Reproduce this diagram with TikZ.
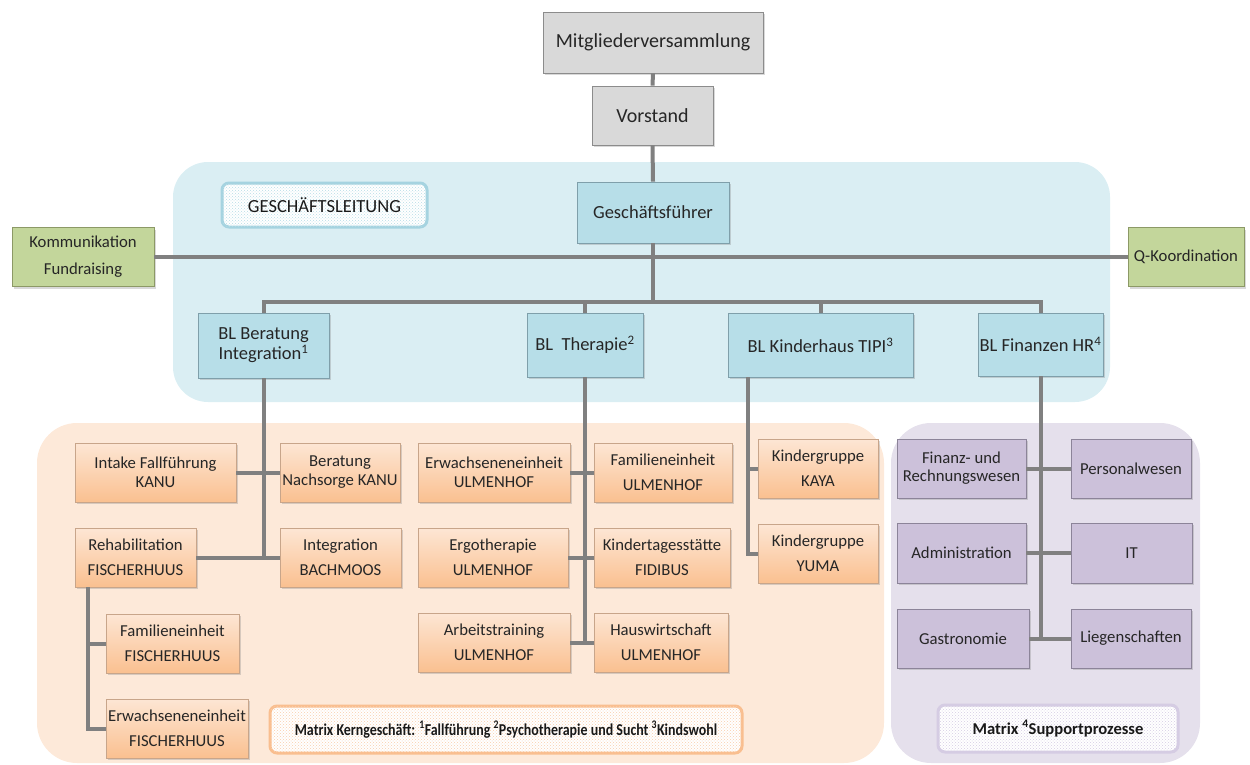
\documentclass[tikz,border=0pt]{standalone}
\usepackage{fontspec}
\setmainfont{Carlito}
\usepackage{graphicx}
\usetikzlibrary{shadows,patterns}

\definecolor{linieF}{HTML}{808080}
\definecolor{grauF}{HTML}{D9D9D9}
\definecolor{grauR}{HTML}{8C8C8C}
\definecolor{blauH}{HTML}{DAEEF3}
\definecolor{blauF}{HTML}{B7DEE8}
\definecolor{blauR}{HTML}{7F9FAA}
\definecolor{blauL}{HTML}{A5D3E0}
\definecolor{gruenF}{HTML}{C3D69B}
\definecolor{gruenR}{HTML}{8C9966}
\definecolor{kernH}{HTML}{FDE9D9}
\definecolor{kernO}{HTML}{FDE6D4}
\definecolor{kernU}{HTML}{FAC090}
\definecolor{kernR}{HTML}{C8A58A}
\definecolor{kernL}{HTML}{F9BE8F}
\definecolor{lilaH}{HTML}{E5E0EC}
\definecolor{lilaF}{HTML}{CCC1DA}
\definecolor{lilaR}{HTML}{8C8499}
\definecolor{lilaL}{HTML}{D5CCE3}

\tikzset{
  masse/.style 2 args={minimum width=#1, minimum height=#2},
  kasten/.style={draw=grauR, line width=0.8pt, align=center, inner sep=1pt,
    text=black!85, font=\fontsize{16.7}{25}\selectfont,
    drop shadow={shadow xshift=1.5pt, shadow yshift=-2pt, opacity=0.3}},
  grau/.style={kasten, fill=grauF, font=\fontsize{20}{24}\selectfont},
  blau/.style={kasten, fill=blauF, draw=blauR, font=\fontsize{18.5}{20}\selectfont},
  gruen/.style={kasten, fill=gruenF, draw=gruenR, font=\fontsize{16.7}{27}\selectfont},
  kern/.style={kasten, draw=kernR, top color=kernO, bottom color=kernU},
  eng/.style={font=\fontsize{16.7}{19}\selectfont},
  lila/.style={kasten, fill=lilaF, draw=lilaR, font=\fontsize{16.7}{18}\selectfont},
  etikett/.style={line width=3pt, rounded corners=7pt, fill=white, text=black!90},
  verbindung/.style={draw=linieF, line width=4pt},
}

\begin{document}
\begin{tikzpicture}[x=1pt,y=-1pt]
\useasboundingbox (0,0) rectangle (1250,765);

%Bereiche
\fill[blauH, rounded corners=35pt] (173,162) rectangle (1110,402);
\fill[kernH, rounded corners=40pt] (37,423) rectangle (884,763);
\fill[lilaH, rounded corners=40pt] (891,423) rectangle (1200,763);

%Etiketten
\node[etikett, draw=blauL, masse={205}{44}, font=\fontsize{18.5}{20}\selectfont, postaction={pattern=crosshatch dots, pattern color=blauL!80}] (gl) at (324.5,205) {GESCHÄFTSLEITUNG};
\node[etikett, draw=kernL, masse={472}{47}, font=\fontsize{16.6}{18}\selectfont\bfseries, postaction={pattern=crosshatch dots, pattern color=kernL!75}] (mk) at (506,729.5) {\scalebox{0.84}[1]{Matrix Kerngeschäft: \textsuperscript{1}Fallführung \textsuperscript{2}Psychotherapie und Sucht \textsuperscript{3}Kindswohl}};
\node[etikett, draw=lilaL, masse={240}{47}, font=\fontsize{16.6}{18}\selectfont\bfseries, postaction={pattern=crosshatch dots, pattern color=lilaL}] (ms) at (1058,728.5) {Matrix \textsuperscript{4}Supportprozesse};

%Leitung
\node[grau, masse={220}{61}] (mv) at (653,42.5) {Mitgliederversammlung};
\node[grau, masse={121}{59}] (vs) at (652.5,115.5) {Vorstand};
\node[blau, masse={152}{61}] (gf) at (653,212.5) {Geschäftsführer};
\node[gruen, masse={142}{59}] (komm) at (83,257) {Kommunikation\\Fundraising};
\node[gruen, masse={116}{59}] (qk) at (1186,257) {Q-Koordination};

%Bereichsleitungen
\node[blau, masse={131}{65}] (blb) at (263.5,345.5) {BL Beratung\\Integration\textsuperscript{1}};
\node[blau, masse={116}{64}] (blt) at (585,345) {BL\ \ Therapie\textsuperscript{2}};
\node[blau, masse={185}{64}] (blk) at (820.5,345) {BL Kinderhaus TIPI\textsuperscript{3}};
\node[blau, masse={125}{63}] (blf) at (1040.5,344.5) {BL Finanzen HR\textsuperscript{4}};

%Beratung
\node[kern, eng, masse={161}{59}] (intake) at (155.5,472.5) {Intake Fallführung\\KANU};
\node[kern, eng, masse={120}{59}] (nachs) at (340,472.5) {Beratung\\Nachsorge KANU};
\node[kern, masse={121}{59}] (rehab) at (135.5,557.5) {Rehabilitation\\FISCHERHUUS};
\node[kern, masse={121}{59}] (integ) at (340.5,557.5) {Integration\\BACHMOOS};
\node[kern, masse={133}{59}] (famf) at (172.5,643.5) {Familieneinheit\\FISCHERHUUS};
\node[kern, masse={142}{59}] (erwf) at (177,728.5) {Erwachseneneinheit\\FISCHERHUUS};

%Therapie
\node[kern, eng, masse={152}{59}] (erwu) at (494,472.5) {Erwachseneneinheit\\ULMENHOF};
\node[kern, masse={138}{59}] (famu) at (663,472.5) {Familieneinheit\\ULMENHOF};
\node[kern, masse={150}{59}] (ergo) at (493,557.5) {Ergotherapie\\ULMENHOF};
\node[kern, masse={136}{59}] (kita) at (662,557.5) {Kindertagesstätte\\FIDIBUS};
\node[kern, masse={152}{59}] (arb) at (494,642.5) {Arbeitstraining\\ULMENHOF};
\node[kern, masse={134}{59}] (haus) at (661,642.5) {Hauswirtschaft\\ULMENHOF};

%Kinderhaus
\node[kern, masse={120}{59}] (kaya) at (818,468.5) {Kindergruppe\\KAYA};
\node[kern, masse={120}{59}] (yuma) at (818,553.5) {Kindergruppe\\YUMA};

%Finanzen
\node[lila, masse={129}{59}] (fin) at (961.5,468.5) {Finanz- und\\Rechnungswesen};
\node[lila, masse={120}{59}] (pers) at (1131,468.5) {Personalwesen};
\node[lila, masse={129}{60}] (adm) at (961.5,553) {Administration};
\node[lila, masse={121}{60}] (it) at (1131.5,553) {IT};
\node[lila, masse={132}{59}] (gast) at (963,638.5) {Gastronomie};
\node[lila, masse={120}{59}] (lieg) at (1131,638.5) {Liegenschaften};

%Linien
\coordinate (bus) at (653,302);
\draw[verbindung] (mv.south) -- (vs.north);
\draw[verbindung] (vs.south) -- (gf.north);
\draw[verbindung] (komm.east) -- (qk.west);
\draw[verbindung] (gf.south) -- (bus);
\draw[verbindung] (blb.north) |- (blf.north |- bus) -- (blf.north);
\draw[verbindung] (blt.north) -- (blt.north |- bus);
\draw[verbindung] (blk.north) -- (blk.north |- bus);

\draw[verbindung] (blb.south) -- (blb.south |- rehab.east);
\draw[verbindung] (intake.east) -- (nachs.west);
\draw[verbindung] (rehab.east) -- (integ.west);
\draw[verbindung] ([xshift=13pt]rehab.south west) |- (erwf.west);
\draw[verbindung] ([xshift=13pt]rehab.south west) |- (famf.west);

\draw[verbindung] (blt.south) -- (blt.south |- arb.east);
\draw[verbindung] (erwu.east) -- (famu.west);
\draw[verbindung] (ergo.east) -- (kita.west);
\draw[verbindung] (arb.east) -- (haus.west);

\draw[verbindung] ([xshift=20pt]blk.south west) |- (yuma.west);
\draw[verbindung] ([xshift=20pt]blk.south west) |- (kaya.west);

\draw[verbindung] (blf.south) -- (blf.south |- gast.east);
\draw[verbindung] (fin.east) -- (pers.west);
\draw[verbindung] (adm.east) -- (it.west);
\draw[verbindung] (gast.east) -- (lieg.west);

\end{tikzpicture}
\end{document}
